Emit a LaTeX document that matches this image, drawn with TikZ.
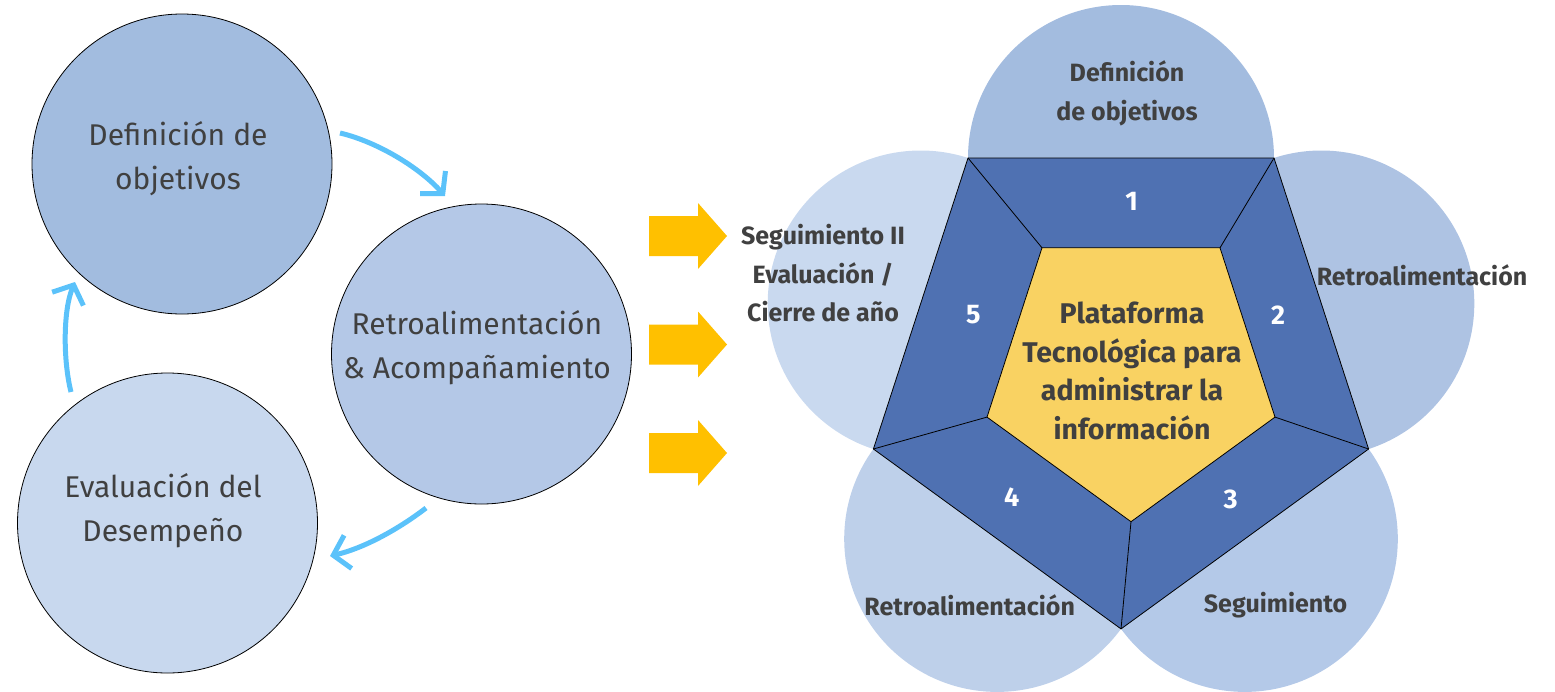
\documentclass[tikz,border=0pt]{standalone}
\usepackage{fontspec}
\setmainfont{Fira Sans}
\usetikzlibrary{arrows.meta}
\definecolor{lcA}{HTML}{A2BCDF}
\definecolor{lcB}{HTML}{B4C8E7}
\definecolor{lcC}{HTML}{C8D8EE}
\definecolor{rcA}{HTML}{A3BCDF}
\definecolor{rcB}{HTML}{AEC3E3}
\definecolor{rcC}{HTML}{B4C9E8}
\definecolor{rcD}{HTML}{BED0EA}
\definecolor{rcE}{HTML}{C9D9EF}
\definecolor{pblue}{HTML}{4F71B2}
\definecolor{pyel}{HTML}{F9D262}
\definecolor{arrblue}{HTML}{5BC2FA}
\definecolor{arryel}{HTML}{FFC000}
\definecolor{txt}{HTML}{404040}
\begin{document}
\begin{tikzpicture}[x=1pt,y=-1pt,
  lcirc/.style={circle, draw=black, line width=0.8pt, minimum size=300pt, inner sep=0pt},
  rcirc/.style={circle, minimum size=306pt, inner sep=0pt},
  ltext/.style={align=center, text=txt, font=\fontsize{30}{44}\selectfont},
  rtext/.style={align=center, text=txt, font=\bfseries\fontsize{25}{39}\selectfont},
  numtext/.style={text=white, font=\bfseries\fontsize{27}{27}\selectfont},
  ctext/.style={align=center, text=txt, font=\bfseries\fontsize{28.5}{38.5}\selectfont},
  cyc/.style={draw=arrblue, line width=5pt, -{Straight Barb[length=15pt,width=34pt,line width=5pt]}},
  pedge/.style={draw=black, line width=0.8pt, line join=miter},
  yarrow/.style={fill=arryel}
]
\useasboundingbox (0,0) rectangle (1555,691);

% ---------- left cycle ----------
\node[lcirc, fill=lcA] (cA) at (182,164) {};
\node[lcirc, fill=lcB] (cB) at (481.5,354) {};
\node[lcirc, fill=lcC] (cC) at (167.5,523) {};
\node[ltext] (tA) at (178,159) {Definición de\\objetivos};
\node[ltext] (tB) at (477,348) {Retroalimentación\\\& Acompañamiento};
\node[ltext] (tC) at (163,511) {Evaluación del\\Desempeño};

\coordinate (a1s) at (340,133); \coordinate (a1e) at (445,196);
\coordinate (a2s) at (426,508); \coordinate (a2e) at (330,556);
\coordinate (a3s) at (71,392);  \coordinate (a3e) at (75,282);
\draw[cyc] (a1s) .. controls (378,142) and (420,168) .. (a1e);
\draw[cyc] (a2s) .. controls (400,528) and (365,548) .. (a2e);
\draw[cyc] (a3s) .. controls (63,360) and (63,310) .. (a3e);

% ---------- yellow arrows ----------
\foreach \yc [count=\i] in {236,344.5,453}{
  \coordinate (ya\i) at (649,\yc);
  \fill[yarrow] (ya\i) ++(0,-20) -- ++(49,0) -- ++(0,-13) -- ++(29,33) -- ++(-29,33) -- ++(0,-13) -- ++(-49,0) -- cycle;
}

% ---------- right pentagon ----------
\node[rcirc, fill=rcA] (rA) at (1121,158) {};
\node[rcirc, fill=rcB] (rB) at (1321.3,303.5) {};
\node[rcirc, fill=rcC] (rC) at (1244.8,538.9) {};
\node[rcirc, fill=rcD] (rD) at (997.2,538.9) {};
\node[rcirc, fill=rcE] (rE) at (920.7,303.5) {};

\coordinate (oTL) at (968,158);
\coordinate (oTR) at (1274,158);
\coordinate (oR)  at (1368.6,449);
\coordinate (oB)  at (1121,628.9);
\coordinate (oL)  at (873.4,449);
\coordinate (iTL) at (1042,247.8);
\coordinate (iTR) at (1220,247.8);
\coordinate (iR)  at (1275,417.1);
\coordinate (iB)  at (1131,521.7);
\coordinate (iL)  at (987,417.1);

\filldraw[pedge, fill=pblue] (oTL) -- (oTR) -- (oR) -- (oB) -- (oL) -- cycle;
\filldraw[pedge, fill=pyel] (iTL) -- (iTR) -- (iR) -- (iB) -- (iL) -- cycle;
\draw[pedge] (oTL) -- (iTL) (oTR) -- (iTR) (oR) -- (iR) (oB) -- (iB) (oL) -- (iL);

\node[rtext] (lA) at (1127,93.5) {Definición\\de objetivos};
\node[rtext] (lB) at (1422,275) {Retroalimentación};
\node[rtext] (lC) at (1275.5,605) {Seguimiento};
\node[rtext] (lD) at (969.7,605) {Retroalimentación};
\node[rtext, font=\bfseries\fontsize{25}{38.5}\selectfont] (lE) at (823,273.5) {Seguimiento II\\Evaluación /\\Cierre de año};

\node[numtext] (n1) at (1131.7,201.7) {1};
\node[numtext] (n2) at (1278,315) {2};
\node[numtext] (n3) at (1230.7,499.3) {3};
\node[numtext] (n4) at (1011.7,496.7) {4};
\node[numtext] (n5) at (973.3,315) {5};

\node[ctext] (cen) at (1132,371) {Plataforma\\Tecnológica para\\administrar la\\información};
\end{tikzpicture}
\end{document}
